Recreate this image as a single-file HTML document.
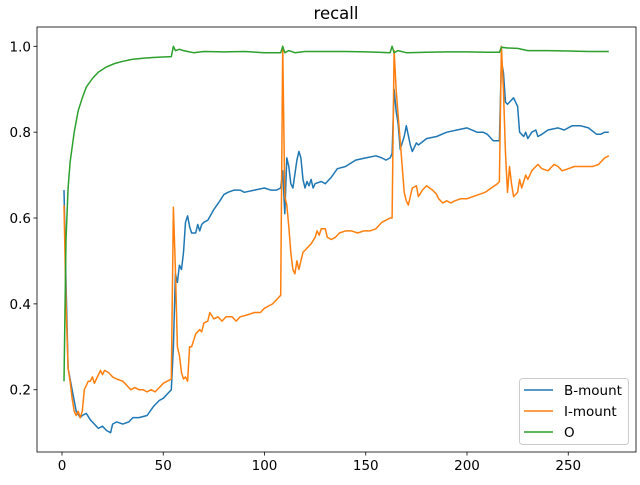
<!DOCTYPE html>
<html><head><meta charset="utf-8"><style>
body{margin:0;background:#fff;font-family:"Liberation Sans","DejaVu Sans",sans-serif}
svg text{font-family:"DejaVu Sans","Liberation Sans",sans-serif}
</style></head><body>
<svg id="chart" width="640" height="480" xmlns="http://www.w3.org/2000/svg">
<rect width="640" height="480" fill="#fff"/>
<text x="336" y="19" font-size="16.5" text-anchor="middle">recall</text>
<g id="plot"></g>
</svg>
<script>
const bX=[1,2,3,5,7,9,10,12,14,16,18,20,22,24,25,27,30,33,35,38,42,45,48,50,53,54,55,56,57,58,59,60,61,62,63,64,66,67,68,69,70,72,75,78,80,82,85,88,90,95,100,103,106,108,109,110,111,112,113,114,116,117,118,119,120,121,122,123,124,125,128,130,133,136,140,145,150,155,158,160,162,163,164,165,166,167,169,170,172,173,175,176,180,185,190,195,200,205,208,210,212,213,216,217,218,219,220,222,223,225,226,228,229,230,232,234,235,237,240,245,248,252,256,260,264,266,268,270];
const bY=[0.665,0.45,0.25,0.2,0.15,0.135,0.14,0.145,0.13,0.12,0.11,0.115,0.105,0.1,0.12,0.125,0.12,0.125,0.135,0.135,0.14,0.16,0.175,0.18,0.195,0.2,0.3,0.47,0.45,0.49,0.48,0.52,0.59,0.605,0.58,0.565,0.565,0.585,0.57,0.585,0.59,0.595,0.62,0.64,0.655,0.66,0.665,0.665,0.66,0.665,0.67,0.665,0.665,0.67,0.71,0.61,0.74,0.72,0.68,0.67,0.735,0.755,0.74,0.69,0.67,0.685,0.675,0.69,0.67,0.68,0.685,0.68,0.695,0.715,0.72,0.735,0.74,0.745,0.74,0.735,0.74,0.75,0.9,0.85,0.82,0.76,0.79,0.815,0.77,0.755,0.775,0.77,0.785,0.79,0.8,0.805,0.81,0.8,0.8,0.795,0.785,0.78,0.78,0.965,0.94,0.87,0.865,0.875,0.88,0.86,0.8,0.79,0.8,0.785,0.8,0.805,0.79,0.795,0.805,0.81,0.805,0.815,0.815,0.81,0.795,0.795,0.8,0.8];
const iX=[1,2,3,4,5,6,7,8,9,10,11,13,14,15,16,17,19,20,21,23,25,27,30,32,34,36,38,40,42,44,46,48,50,52,54,55,56,57,58,59,60,61,62,63,64,66,68,69,70,72,73,75,77,79,81,84,86,88,92,95,98,100,104,106,108,109,110,111,112,113,114,115,116,117,118,119,121,123,125,126,127,128,130,131,133,135,137,140,143,146,149,152,155,158,162,163,164,165,166,167,168,169,170,171,172,173,175,176,178,180,183,185,186,188,190,192,194,197,200,203,206,209,212,215,216,217,218,219,220,221,222,223,225,226,227,229,230,232,234,235,237,240,243,245,247,250,253,256,258,262,265,268,270];
const iY=[0.63,0.4,0.25,0.22,0.18,0.15,0.14,0.15,0.135,0.15,0.2,0.22,0.22,0.23,0.215,0.225,0.245,0.235,0.245,0.24,0.23,0.225,0.22,0.21,0.2,0.205,0.2,0.2,0.195,0.2,0.195,0.205,0.215,0.22,0.225,0.625,0.48,0.3,0.28,0.24,0.225,0.23,0.22,0.3,0.3,0.33,0.34,0.335,0.355,0.36,0.38,0.365,0.37,0.36,0.37,0.37,0.36,0.37,0.375,0.38,0.38,0.39,0.4,0.41,0.42,1.0,0.65,0.63,0.58,0.52,0.48,0.47,0.5,0.48,0.5,0.52,0.53,0.54,0.555,0.57,0.56,0.575,0.575,0.555,0.55,0.555,0.565,0.57,0.57,0.565,0.57,0.57,0.575,0.59,0.6,0.6,0.99,0.9,0.84,0.78,0.72,0.66,0.64,0.63,0.65,0.67,0.675,0.65,0.665,0.675,0.665,0.655,0.645,0.635,0.64,0.635,0.64,0.645,0.645,0.65,0.655,0.66,0.67,0.68,0.685,1.0,0.9,0.75,0.66,0.72,0.68,0.65,0.66,0.69,0.67,0.7,0.69,0.71,0.72,0.725,0.715,0.71,0.725,0.72,0.71,0.715,0.72,0.72,0.72,0.72,0.725,0.74,0.745];
const oX=[1,2,3,4,6,8,10,12,15,18,22,26,30,35,40,45,50,54,55,56,58,60,62,65,70,80,90,100,108,109,110,112,115,120,130,140,150,162,163,164,166,170,180,190,200,210,216,217,220,225,230,240,250,260,270];
const oY=[0.22,0.55,0.67,0.73,0.8,0.85,0.88,0.905,0.925,0.94,0.952,0.96,0.965,0.97,0.972,0.974,0.975,0.976,1.0,0.99,0.993,0.99,0.988,0.985,0.988,0.987,0.988,0.985,0.985,1.0,0.985,0.99,0.985,0.988,0.988,0.988,0.987,0.985,1.0,0.985,0.99,0.985,0.986,0.987,0.987,0.986,0.986,0.998,0.996,0.995,0.99,0.99,0.989,0.988,0.988];
const xTicks=[0,50,100,150,200,250];
const yTicks=[0.2,0.4,0.6,0.8,1.0];
const L=37,T=27,R=636,B=452;
const xs=v=>62+v*2.025;
const ys=v=>46.3+(1.0-v)*429.3;
const NS="http://www.w3.org/2000/svg";
const g=document.getElementById('plot');
function mk(t,a){const e=document.createElementNS(NS,t);for(const k in a)e.setAttribute(k,a[k]);g.appendChild(e);return e;}
const frame=mk('rect',{x:L,y:T,width:R-L,height:B-T,fill:'none',stroke:'#000','stroke-width':0.8});


xTicks.forEach(v=>{const x=xs(v);
 const t=mk('line',{x1:x,x2:x,y1:B,y2:B+3.5,stroke:'#000','stroke-width':0.8});
 
 
 const l=mk('text',{x:x,y:B+18,'font-size':13.5,'text-anchor':'middle'});l.textContent=v;
 
 });
yTicks.forEach(v=>{const y=ys(v);
 const t=mk('line',{x1:L-3.5,x2:L,y1:y,y2:y,stroke:'#000','stroke-width':0.8});
 
 
 const l=mk('text',{x:L-6,y:y+5,'font-size':13.5,'text-anchor':'end'});l.textContent=v.toFixed(1);
 
 });
function line(X,Y,c,n){const p=mk('polyline',{points:X.map((x,i)=>xs(x).toFixed(1)+','+ys(Y[i]).toFixed(1)).join(' '),fill:'none',stroke:c,'stroke-width':1.5,'stroke-linejoin':'round'});
 
 }
line(bX,bY,'#1f77b4','b-mount-line');
line(iX,iY,'#ff7f0e','i-mount-line');
line(oX,oY,'#2ca02c','o-line');
const lg=mk('rect',{x:519.5,y:378.5,width:109,height:66,rx:3,fill:'#fff','fill-opacity':0.8,stroke:'#ccc','stroke-width':1});


[['B-mount','#1f77b4'],['I-mount','#ff7f0e'],['O','#2ca02c']].forEach((d,i)=>{const y=390+i*21;
 const s=mk('line',{x1:524,x2:553,y1:y,y2:y,stroke:d[1],'stroke-width':1.5});
 
 
 const t=mk('text',{x:564,y:y+5,'font-size':13.5});t.textContent=d[0];
 
 });
</script>
</body></html>
